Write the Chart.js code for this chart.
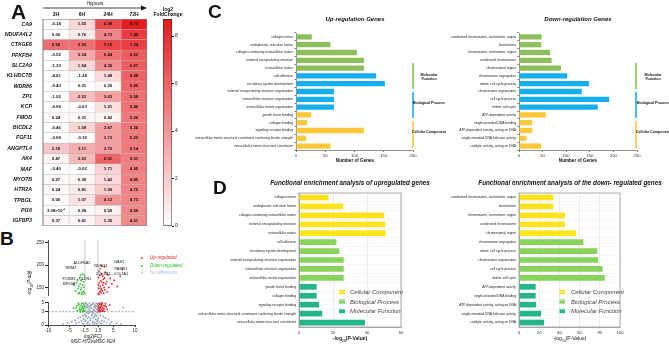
<!DOCTYPE html>
<html>
<head>
<meta charset="utf-8">
<title>Hypoxia gene figure</title>
<script src="https://cdn.jsdelivr.net/npm/chart.js"></script>
<style>
  body { margin: 0; background: #fff; }
  #fig { position: relative; width: 669px; height: 345px; overflow: hidden; background: #fff;
         font-family: 'Liberation Sans', Arial, sans-serif; color: #111; }
  #fig canvas { position: absolute; }
  .t { position: absolute; white-space: nowrap; line-height: 1; }
</style>
</head>
<body>
<div id="fig">
  <svg id="over" width="669" height="345" style="position:absolute;left:0;top:0"></svg>
</div>
<script>
// ---- A: heatmap data (log2 fold change) ----
const genes = ['CA9','NDUFA4L2','CTAGE6','PFKFB4','SLC2A9','KLHDC7B','WDR86','ZP1','KCP','FMOD',
               'BICDL2','FGF11','ANGPTL4','AK4','MAF','MYO7B','HTR2A','TPBGL','PI16','IGFBP3'];
const hours = ['2H','6H','24H','72H'];
const h2  = [-0.14, 0.06, 5.56, -0.52, -1.33, -4.61, -0.43, -1.02, -0.09, 0.24, -0.46, -0.09, 2.18, 0.47, -0.40, 0.27, 0.24, 0.06, 0.00308, 0.37];
const h6  = [1.55, 0.76, 5.50, 3.34, 1.54, -1.28, 0.01, 2.53, -0.63, 0.31, 1.58, -0.15, 3.11, 2.63, -0.02, 0.39, 0.81, 1.07, 0.29, 0.41];
const h24 = [6.98, 4.73, 7.15, 5.44, 4.39, 1.48, 0.29, 3.63, 1.21, 0.42, 3.67, 3.73, 3.75, 6.01, 1.71, 1.42, 1.99, 4.12, 0.59, 1.35];
const h72 = [8.72, 7.49, 7.34, 6.22, 6.27, 6.08, 5.89, 5.58, 5.46, 5.20, 5.26, 5.22, 5.14, 5.01, 4.95, 4.85, 4.75, 4.73, 4.59, 4.51];
const colorTicks = [0, 2, 4, 6, 8];

// ---- B: volcano points, flat [log2FC, -log10 padj] pairs ----
const fcCut = [-1.5, 1.5];
const padjCut = 3;
const grayLow = [-1.2,4.8, -0.9,4.6, -0.5,4.9, -0.2,4.4, 0.3,4.7, 0.8,4.5, 1.1,4.9, 1.3,4.2, -1.4,4.1, -1.0,3.9,
  -0.6,3.6, -0.1,3.8, 0.4,3.5, 0.9,3.9, 1.2,3.6, -1.3,3.3, -0.8,3.1, -0.3,3.2, 0.2,3.0, 0.6,3.3, 1.0,3.1, 1.4,3.4,
  -1.1,2.8, -0.7,2.6, -0.4,2.9, 0.1,2.5, 0.5,2.7, 0.9,2.4, 1.3,2.8, -1.5,2.3, -2.0,2.1, -2.6,1.8, -3.1,1.5, -3.8,1.1,
  -4.5,0.8, 2.1,2.2, 2.7,1.9, 3.2,1.6, 3.9,1.2, 4.6,0.7, -1.2,2.0, -0.6,1.8, 0.0,2.1, 0.7,1.9, 1.1,2.1, -0.9,1.5,
  -0.2,1.4, 0.4,1.6, 1.0,1.3, 1.6,1.5, -1.8,1.3, -2.3,0.9, -2.9,0.6, -3.5,0.4, 2.4,1.0, 2.9,0.8, 3.5,0.5, 4.2,0.3,
  -1.4,0.9, -0.8,0.7, -0.3,1.0, 0.3,0.8, 0.8,0.6, 1.3,0.9, 1.9,0.6, -1.0,0.3, -0.5,0.2, 0.2,0.4, 0.6,0.2, 1.2,0.3,
  -2.0,0.3, 2.2,0.3, -0.4,4.1, 0.6,4.1, -1.1,4.4, 0.0,4.6, 1.0,4.3, -0.7,4.2, 0.5,5.0, -1.3,5.0, 1.4,4.7, -5.5,0.5,
  5.8,0.4, -6.5,0.2, 6.8,0.2, 7.2,4.0];
const redLow = [1.6,3.2, 1.8,3.6, 2.0,4.1, 2.2,4.6, 1.7,4.9, 2.4,3.4, 2.6,3.9, 2.8,4.4, 3.0,3.1, 3.2,4.8, 1.9,3.0,
  2.1,3.8, 2.3,4.3, 2.5,5.0, 2.7,3.3, 1.6,4.4, 1.8,4.0, 2.0,3.3, 2.2,4.9, 2.9,3.7, 3.4,4.1, 1.7,3.5, 2.4,4.7, 3.6,3.5,
  4.2,4.5, 2.1,3.1, 1.9,4.7, 2.6,3.1, 1.6,3.9, 3.1,4.3];
const redHigh = [1.6,136, 1.9,140, 2.2,138, 2.5,142, 2.8,137, 3.1,145, 1.7,148, 2.0,152, 2.3,147, 2.6,155, 2.9,150,
  3.3,158, 1.8,160, 2.1,165, 2.4,162, 2.7,168, 3.0,171, 3.5,163, 1.6,172, 1.9,177, 2.3,180, 2.6,175, 3.2,184, 3.8,178,
  4.3,170, 4.7,158, 5.2,166, 5.9,152, 6.6,175, 7.1,190, 1.7,186, 2.0,192, 2.4,198, 3.0,196, 1.6,155, 2.2,144, 2.8,160,
  3.6,140, 4.0,150, 1.8,134];
const greenLow = [-1.6,3.1, -1.8,3.7, -2.0,4.2, -2.2,4.8, -2.5,3.4, -2.7,4.0, -2.9,4.6, -3.2,3.2, -3.5,3.9, -1.7,4.5,
  -1.9,3.3, -2.1,3.9, -2.4,4.4, -2.6,3.0, -3.0,4.9, -2.3,3.6, -1.6,4.1, -2.8,3.5, -3.3,4.4, -4.1,3.8, -1.9,4.9, -2.0,3.0];
const greenHigh = [-1.6,137, -1.9,141, -2.2,139, -2.5,145, -2.8,138, -3.1,148, -1.7,150, -2.0,155, -2.3,149, -2.6,158,
  -2.9,153, -3.4,160, -1.8,163, -2.1,168, -2.4,165, -2.7,172, -3.2,166, -3.7,142, -4.0,155, -1.6,176, -2.0,180,
  -2.5,178, -1.9,134, -2.3,135, -3.0,136];

// ---- C / D: GO terms ----
const upTerms = ['collagen trimer','endoplasmic reticulum lumen','collagen-containing extracellular matrix',
  'external encapsulating structure','extracellular matrix','cell adhesion','circulatory system development',
  'external encapsulating structure organization','extracellular structure organization',
  'extracellular matrix organization','growth factor binding','collagen binding','signaling receptor binding',
  'extracellular matrix structural constituent conferring tensile strength','extracellular matrix structural constituent'];
const upCounts = [27, 59, 104, 116, 116, 137, 152, 65, 65, 65, 26, 19, 116, 17, 59];
const upLogP = [17.3, 26, 50, 50.8, 51, 22, 23.7, 26.3, 26.3, 26.3, 10.4, 10.4, 11.8, 13.7, 38.8];
const downTerms = ['condensed chromosome, centromeric region','kinetochore','chromosome, centromeric region',
  'condensed chromosome','chromosomal region','chromosome segregation','mitotic cell cycle process',
  'chromosome organization','cell cycle process','mitotic cell cycle','ATP-dependent activity',
  'single-stranded DNA binding','ATP-dependent activity, acting on DNA','single-stranded DNA helicase activity',
  'catalytic activity, acting on DNA'];
const downCounts = [48, 47, 66, 69, 89, 102, 148, 133, 191, 167, 57, 28, 28, 16, 47];
const downLogP = [34, 34, 45.5, 45.5, 56.4, 63.7, 77.5, 78.5, 82.8, 85, 16.5, 16.5, 17, 21.8, 24.8];
const termGroup = ['CC','CC','CC','CC','CC','BP','BP','BP','BP','BP','MF','MF','MF','MF','MF'];

const colorsC = { CC: '#8cc05a', BP: '#16aef0', MF: '#fbc83a' };
const colorsD = { CC: '#ffe31f', BP: '#88d35c', MF: '#26b48b' };

// ---------------------------------------------------------------
Chart.defaults.font.family = "'Liberation Sans', Arial, sans-serif";
Chart.defaults.animation = false;
Chart.defaults.responsive = false;
Chart.defaults.plugins.legend.display = false;
Chart.defaults.plugins.tooltip.enabled = false;

const fig = document.getElementById('fig');
const over = document.getElementById('over');

function canvasAt(left, top, w, h) {
  const c = document.createElement('canvas');
  c.width = w; c.height = h;
  c.style.left = left + 'px'; c.style.top = top + 'px';
  c.style.width = w + 'px'; c.style.height = h + 'px';
  fig.appendChild(c);
  return c;
}
function fitW(w) { return s => { s.width = w; s.paddingTop = 0; s.paddingBottom = 0; }; }
function fitH(h) { return s => { s.height = h; s.paddingLeft = 0; s.paddingRight = 0; }; }
function setTicks(list) { return s => { s.ticks = list.map(v => ({ value: v })); }; }
function pairs(flat) {
  const out = [];
  for (let i = 0; i < flat.length; i += 2) out.push({ x: flat[i], y: flat[i + 1] });
  return out;
}
function txt(html, x, y, size, css, anchor, rot) {
  const d = document.createElement('div');
  d.className = 't';
  d.innerHTML = html;
  d.style.left = x + 'px'; d.style.top = y + 'px'; d.style.fontSize = size + 'px';
  const tx = anchor === 'l' ? '0' : anchor === 'r' ? '-100%' : '-50%';
  d.style.transform = `translate(${tx},-50%)` + (rot ? ` rotate(${rot}deg)` : '');
  if (css) d.style.cssText += css;
  fig.appendChild(d);
}
function svg(tag, attrs) {
  const e = document.createElementNS('http://www.w3.org/2000/svg', tag);
  for (const k in attrs) e.setAttribute(k, attrs[k]);
  over.appendChild(e);
}

// ---- A: heatmap ----
const cols = [h2, h6, h24, h72];
const cmax = Math.max(...h72);
const hot = [230, 28, 32];
function heatColor(v) {
  const t = Math.max(0, Math.min(1, v / cmax));
  const c = hot.map(k => Math.round(255 + (k - 255) * t));
  return `rgb(${c[0]},${c[1]},${c[2]})`;
}
function fmt(v) {
  if (v !== 0 && Math.abs(v) < 0.01) {
    const e = Math.floor(Math.log10(Math.abs(v)));
    const sup = { '-': '⁻', '0': '⁰', '1': '¹', '2': '²', '3': '³', '4': '⁴', '5': '⁵', '6': '⁶', '7': '⁷', '8': '⁸', '9': '⁹' };
    return (v / Math.pow(10, e)).toFixed(2) + '×10' + String(e).split('').map(ch => sup[ch]).join('');
  }
  return v.toFixed(2);
}
const cellText = {
  id: 'cellText',
  afterDatasetsDraw(chart) {
    const ctx = chart.ctx, a = chart.chartArea;
    ctx.save();
    ctx.font = "bold 4.3px 'Liberation Sans', Arial";
    ctx.textAlign = 'center'; ctx.textBaseline = 'middle'; ctx.fillStyle = '#111';
    chart.data.datasets.forEach((ds, j) => {
      chart.getDatasetMeta(j).data.forEach((el, i) => {
        ctx.fillText(fmt(cols[j][i]), (el.x + el.base) / 2, el.y);
      });
    });
    ctx.strokeStyle = '#666'; ctx.lineWidth = 0.8;
    ctx.strokeRect(a.left, a.top, a.width, a.height);
    ctx.restore();
  }
};
new Chart(canvasAt(0, 19, 147, 207), {
  type: 'bar',
  data: {
    labels: genes,
    datasets: cols.map((vals, j) => ({
      label: hours[j], data: vals.map(() => 1), backgroundColor: vals.map(heatColor),
      borderColor: '#b8b8b8', borderWidth: 0.5, borderSkipped: false,
      barPercentage: 1, categoryPercentage: 1
    }))
  },
  options: {
    indexAxis: 'y',
    layout: { padding: 0 },
    scales: {
      x: { stacked: true, display: false, min: 0, max: 4 },
      y: { stacked: true, grid: { display: false }, border: { display: false },
           ticks: { font: { size: 5.3, weight: 'bold', style: 'italic' }, color: '#111', padding: 3, autoSkip: false },
           afterFit: fitW(43) }
    }
  },
  plugins: [cellText]
});
// colour bar
new Chart(canvasAt(163, 15, 24, 215), {
  type: 'bar',
  data: { labels: [''], datasets: [{ data: [cmax], borderColor: '#222', borderWidth: 0.8, borderSkipped: false,
    barPercentage: 1, categoryPercentage: 1,
    backgroundColor: c => {
      const a = c.chart.chartArea;
      if (!a) return heatColor(cmax);
      const g = c.chart.ctx.createLinearGradient(0, a.bottom, 0, a.top);
      g.addColorStop(0, '#ffffff'); g.addColorStop(1, heatColor(cmax));
      return g;
    } }] },
  options: {
    layout: { padding: { top: 4, bottom: 4 } },
    scales: {
      x: { display: false },
      y: { position: 'right', min: 0, max: cmax, afterBuildTicks: setTicks(colorTicks),
           grid: { drawOnChartArea: false, tickLength: 2, color: '#222' }, border: { display: false },
           ticks: { font: { size: 5 }, color: '#222', padding: 1 }, afterFit: fitW(15) }
    }
  }
});
txt('A', 11, 11, 21, 'font-weight:bold', 'l');
txt('log2<br>FoldChange', 168, 12, 5, 'font-weight:bold;text-align:center');
txt('Hypoxia', 95, 4, 4.5, 'font-style:italic');
svg('line', { x1: 43, y1: 8, x2: 143, y2: 8, stroke: '#111', 'stroke-width': 0.8 });
svg('polygon', { points: '147,8 141,5.5 141,10.5', fill: '#111' });
hours.forEach((h, j) => txt(h, 43 + 26 * j + 13, 14, 5, 'font-weight:bold'));

// ---- B: volcano (broken y axis) ----
const volcanoGuides = {
  id: 'guides',
  beforeDatasetsDraw(chart, args, o) {
    const { ctx, chartArea: a, scales: { x, y } } = chart;
    ctx.save();
    ctx.strokeStyle = '#b4b4b4'; ctx.lineWidth = 0.7;
    fcCut.forEach(v => {
      const px = x.getPixelForValue(v);
      ctx.beginPath(); ctx.moveTo(px, a.top); ctx.lineTo(px, a.bottom); ctx.stroke();
    });
    if (o.padj != null) {
      const py = y.getPixelForValue(o.padj);
      ctx.setLineDash([2, 1.5]); ctx.strokeStyle = '#808080';
      ctx.beginPath(); ctx.moveTo(a.left, py); ctx.lineTo(a.right, py); ctx.stroke();
    }
    ctx.restore();
  }
};
const ptStyle = c => ({ backgroundColor: c, pointRadius: 0.9, pointBorderWidth: 0 });
const axisY = (min, max, list) => ({
  min, max, afterBuildTicks: setTicks(list),
  grid: { drawOnChartArea: false, tickLength: 3, color: '#222' }, border: { color: '#222', width: 0.8 },
  ticks: { font: { size: 4.5 }, color: '#222', padding: 1 }, afterFit: fitW(18)
});
new Chart(canvasAt(30, 236, 109, 63), {
  type: 'scatter',
  data: { datasets: [
    { data: pairs(redHigh), ...ptStyle('#e3262b') },
    { data: pairs(greenHigh), ...ptStyle('#2cc22e') }
  ] },
  options: {
    layout: { padding: { top: 4 } },
    plugins: { guides: {} },
    scales: { x: { display: false, min: -10, max: 10 }, y: axisY(133, 256, [150, 200, 250]) }
  },
  plugins: [volcanoGuides]
});
new Chart(canvasAt(30, 298, 109, 39), {
  type: 'scatter',
  data: { datasets: [
    { data: pairs(grayLow), ...ptStyle('#8d9db3') },
    { data: pairs(redLow), ...ptStyle('#e3262b') },
    { data: pairs(greenLow), ...ptStyle('#2cc22e') }
  ] },
  options: {
    layout: { padding: { top: 4 } },
    plugins: { guides: { padj: padjCut } },
    scales: {
      x: { min: -10, max: 10, afterBuildTicks: setTicks([-10, -5, -1.5, 1.5, 5, 10]),
           grid: { drawOnChartArea: false, tickLength: 2, color: '#222' }, border: { color: '#222', width: 0.8 },
           ticks: { font: { size: 4.5 }, color: '#222', padding: 1, autoSkip: false, maxRotation: 0 },
           afterFit: fitH(12) },
      y: axisY(0, 5.2, [0, 3, 5])
    }
  },
  plugins: [volcanoGuides]
});
txt('B', 0, 238, 19, 'font-weight:bold', 'l');
txt('-log<sub style="font-size:3px">10</sub>(P-adj)', 31, 283, 4.5, 'font-style:italic', 'c', -90);
txt('log2(FC)', 93, 337, 4.5, 'font-style:italic');
txt('MSC-H72vsMSC-N24', 93, 342, 4.5, 'font-style:italic');
[['ALDH1A2', 82, 264], ['RRM2', 71, 269], ['FOXM1 - CLDN1', 77, 280], ['KIF20A', 69, 285],
 ['NDRG1', 101, 267], ['GAS1', 119, 263], ['PAMR1', 121, 270], ['COL3A1 - COL1A1', 112, 275]]
  .forEach(g => txt(g[0], g[1], g[2], 3.8));
[['Up-regulated', '#e3262b', 258], ['Down-regulated', '#2cc22e', 266], ['No difference', '#aec3d4', 273]]
  .forEach(l => {
    svg('circle', { cx: 142, cy: l[2], r: 0.9, fill: l[1] });
    txt(l[0], 150, l[2], 4.6, 'font-style:italic;color:' + l[1], 'l');
  });

// ---- C: number of genes ----
function goBar(left, top, w, h, yw, terms, vals, palette, max, step, boxed) {
  const plugins = [];
  if (boxed) plugins.push({ id: 'box', afterDraw(chart) {
    const { ctx, chartArea: a } = chart;
    ctx.save(); ctx.strokeStyle = '#9c9c9c'; ctx.lineWidth = 0.8;
    ctx.strokeRect(a.left, a.top, a.width, a.height); ctx.restore();
  } });
  return new Chart(canvasAt(left, top, w, h), {
    type: 'bar',
    data: { labels: terms, datasets: [{ data: vals, backgroundColor: termGroup.map(g => palette[g]),
      barPercentage: boxed ? 0.64 : 0.68, categoryPercentage: 1 }] },
    options: {
      indexAxis: 'y',
      layout: { padding: { top: 8, right: 8, left: 0, bottom: 0 } },
      scales: {
        x: { min: 0, max, ticks: { stepSize: step, font: { size: 4.2 }, color: '#333', padding: 1 },
             grid: boxed ? { color: '#d3dfee', lineWidth: 0.6, tickLength: 2 } : { drawOnChartArea: false, tickLength: 2, color: '#777' },
             border: { color: boxed ? '#9c9c9c' : '#777', width: 0.8 }, afterFit: fitH(10) },
        y: { ticks: { font: { size: 3.3 }, color: '#222', padding: 1.5, autoSkip: false },
             grid: boxed ? { color: '#e9eef5', lineWidth: 0.5, tickLength: 1.5 } : { drawOnChartArea: false, tickLength: 1.5, color: '#777' },
             border: { color: boxed ? '#9c9c9c' : '#777', width: 0.8 }, afterFit: fitW(yw) }
      }
    },
    plugins
  });
}
goBar(186, 25, 235, 135, 110, upTerms, upCounts, colorsC, 200, 50, false);
goBar(439, 25, 206, 135, 80, downTerms, downCounts, colorsC, 250, 50, false);
txt('C', 208, 11, 19, 'font-weight:bold', 'l');
txt('Up-regulation Genes', 355, 19, 6, 'font-weight:bold;font-style:italic');
txt('Down-regulation Genes', 578, 19, 6, 'font-weight:bold;font-style:italic');
txt('Number of Genes', 355, 161, 4.6, 'font-weight:bold');
txt('Number of Genes', 578, 161, 4.6, 'font-weight:bold');
[[413, 429], [636, 653]].forEach(p => {
  svg('line', { x1: p[0], y1: 63, x2: p[0], y2: 89, stroke: colorsC.CC, 'stroke-width': 1.6 });
  svg('line', { x1: p[0], y1: 92, x2: p[0], y2: 118, stroke: colorsC.BP, 'stroke-width': 1.6 });
  svg('line', { x1: p[0], y1: 121, x2: p[0], y2: 148, stroke: colorsC.MF, 'stroke-width': 1.6 });
  txt('Molecular<br>Function', p[1], 78, 3.6, 'font-weight:bold;text-align:center');
  txt('Biological Process', p[1], 104, 3.6, 'font-weight:bold');
  txt('Cellular Component', p[1], 133, 3.6, 'font-weight:bold');
});

// ---- D: enrichment p-values ----
goBar(186, 185, 223, 152, 113, upTerms, upLogP, colorsD, 60, 20, true);
goBar(439, 185, 189, 152, 80, downTerms, downLogP, colorsD, 100, 20, true);
txt('D', 213, 187, 19, 'font-weight:bold', 'l');
txt('Functional enrichment analysis of upregulated genes', 350, 183, 6.3, 'font-weight:bold;font-style:italic');
txt('Functional enrichment analysis of the down- regulated genes', 570, 183, 6.3, 'font-weight:bold;font-style:italic');
txt('-log<sub style="font-size:3.4px">10</sub>(P-Value)', 350, 340, 5, 'font-weight:bold;color:#222');
txt('-log<sub style="font-size:3.4px">10</sub>(P-Value)', 570, 340, 5, 'color:#222');
[[342, 350], [562, 571]].forEach(p => {
  [['Cellular Component', 'CC', 292], ['Biological Process', 'BP', 301.5], ['Molecular Function', 'MF', 311]]
    .forEach(l => {
      svg('rect', { x: p[0] - 3, y: l[2] - 2.2, width: 6, height: 4.4, fill: colorsD[l[1]] });
      txt(l[0], p[1], l[2], 6, 'font-style:italic;color:#444', 'l');
    });
});
</script>
</body>
</html>
